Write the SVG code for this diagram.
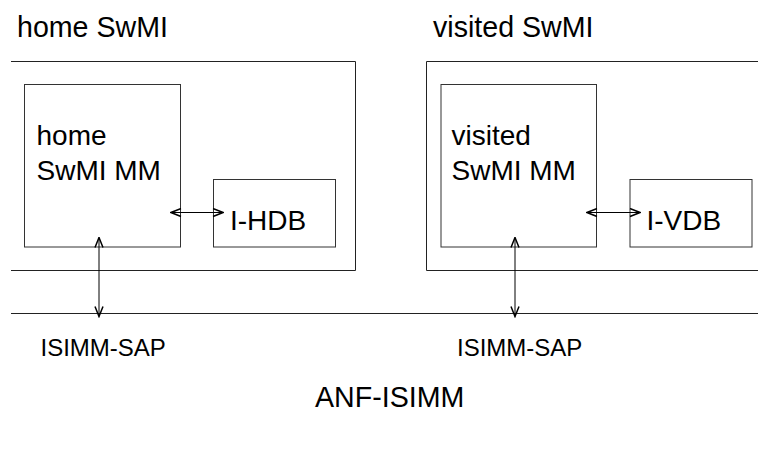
<svg xmlns="http://www.w3.org/2000/svg" width="758" height="450" viewBox="0 0 758 450">
<style>
.box{fill:none;stroke:#333;stroke-width:1}
.ln{fill:none;stroke:#222;stroke-width:1}
.con{fill:none;stroke:#000;stroke-width:1;marker-start:url(#ah);marker-end:url(#ah)}
text{font-family:"Liberation Sans",Arial,sans-serif;fill:#000}
.big{font-size:28px}
.title{font-size:28.6px}
.sap{font-size:24px}
</style>
<defs>
<marker id="ah" viewBox="0 0 12 10" refX="11" refY="5" markerWidth="12" markerHeight="10" markerUnits="userSpaceOnUse" orient="auto-start-reverse">
<path d="M1,1 L11,5 L1,9" fill="none" stroke="#000" stroke-width="1.5"/>
</marker>
</defs>
<g id="home-swmi">
<path class="ln" d="M11,61.5 H355.5 V270.5 H11"/>
<text class="title" x="17" y="37">home SwMI</text>
</g>
<g id="visited-swmi">
<path class="ln" d="M758,61.5 H426.5 V270.5 H758"/>
<text class="title" x="433" y="37">visited SwMI</text>
</g>
<g id="home-mm">
<rect class="box" x="24.5" y="84.5" width="156" height="162.5"/>
<text class="big" x="36.5" y="144.5">home</text>
<text class="big" x="36.5" y="179.5">SwMI MM</text>
</g>
<g id="i-hdb">
<rect class="box" x="213.5" y="179.5" width="122" height="67.5"/>
<text class="big" x="230" y="230">I-HDB</text>
</g>
<g id="visited-mm">
<rect class="box" x="441" y="84.5" width="155.5" height="162.5"/>
<text class="big" x="451.5" y="144.5">visited</text>
<text class="big" x="451.5" y="179.5">SwMI MM</text>
</g>
<g id="i-vdb">
<rect class="box" x="630" y="179.5" width="122" height="67.5"/>
<text class="big" x="646.5" y="230">I-VDB</text>
</g>
<g id="anf">
<path class="ln" d="M11,313.5 H758"/>
<text class="sap" x="40.5" y="356">ISIMM-SAP</text>
<text class="sap" x="457" y="356">ISIMM-SAP</text>
<text class="title" x="315" y="407">ANF-ISIMM</text>
</g>
<g id="connectors">
<path class="con" d="M171,212.5 H223"/>
<path class="con" d="M587,212.5 H640"/>
<path class="con" d="M99,237.5 V316.5"/>
<path class="con" d="M515,237.5 V316.5"/>
</g>
</svg>
